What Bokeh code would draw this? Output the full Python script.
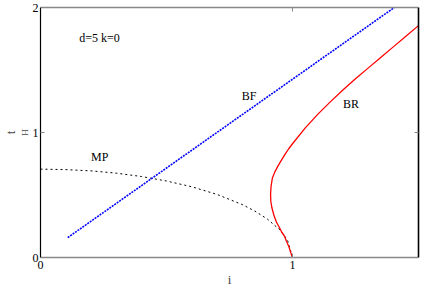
import math
from bokeh.plotting import figure
from bokeh.models import LinearAxis, FixedTicker, Range1d, Title
from bokeh.core.properties import value
from bokeh.embed import file_html
from bokeh.resources import INLINE

# ---- data ----
x_ticks = [0, 1]
y_ticks = [0, 1, 2]

# BF (blue dotted, straight line)
bf_i = [0.108, 1.404]
bf_t = [0.159, 2.0]

# MP (black dotted)
mp_i = [0.0, 0.1, 0.2, 0.3, 0.4, 0.5, 0.6, 0.7, 0.8, 0.85, 0.9, 0.95, 0.98, 1.0]
mp_t = [0.707, 0.703, 0.693, 0.675, 0.648, 0.612, 0.566, 0.505, 0.424, 0.372, 0.308, 0.221, 0.14, 0.0]

# BR (red solid)
br_i = [1.0, 0.993, 0.985, 0.976, 0.968, 0.958, 0.948, 0.936, 0.926, 0.918, 0.914, 0.913,
        0.915, 0.92, 0.93, 0.942, 0.955, 0.97, 0.985, 1.0, 1.05, 1.1, 1.15, 1.2, 1.25,
        1.3, 1.35, 1.4, 1.45, 1.5]
br_t = [0.0, 0.04, 0.09, 0.13, 0.172, 0.2, 0.24, 0.284, 0.34, 0.4, 0.45, 0.507,
        0.57, 0.634, 0.685, 0.731, 0.775, 0.825, 0.87, 0.91, 1.035, 1.145, 1.245, 1.34, 1.43,
        1.515, 1.6, 1.685, 1.77, 1.855]

notes_text = ["d=5 k=0", "BF", "BR", "MP"]
notes_i = [0.154, 0.828, 1.232, 0.235]
notes_t = [1.754, 1.291, 1.231, 0.806]
notes_align = ["left", "center", "center", "center"]

SERIF = "Liberation Serif"

p = figure(width=420, height=289, x_range=Range1d(0, 1.5), y_range=Range1d(0, 2),
           output_backend="svg", toolbar_location=None,
           min_border_left=2, min_border_right=2, min_border_top=7, min_border_bottom=27)
p.outline_line_color = None
p.xgrid.visible = False
p.ygrid.visible = False
p.background_fill_color = "white"
p.border_fill_color = "white"

def style_axis(ax, ticks, line_color, line_width, labels=True):
    ax.ticker = FixedTicker(ticks=ticks)
    ax.axis_line_color = line_color
    ax.axis_line_width = line_width
    ax.major_tick_in = 4
    ax.major_tick_out = 0
    ax.major_tick_line_color = "#888888"
    ax.minor_tick_line_color = None
    if labels:
        ax.major_label_text_font = SERIF
        ax.major_label_text_font_size = "12px"
        ax.major_label_text_color = "black"
        ax.major_label_standoff = 3
    else:
        ax.major_label_overrides = {t: "" for t in ticks}
        ax.major_label_standoff = 0

xa = p.xaxis[0]
ya = p.yaxis[0]
style_axis(xa, x_ticks, "#888888", 1.6)
style_axis(ya, y_ticks, "black", 1.2)
ya.major_label_standoff = 2
xa.axis_label = "i"
xa.axis_label_text_font = SERIF
xa.axis_label_text_font_size = "13px"
xa.axis_label_text_font_style = "normal"
xa.axis_label_standoff = 0

top = LinearAxis()
style_axis(top, x_ticks, "#888888", 1.6, labels=False)
p.add_layout(top, "above")
right = LinearAxis()
style_axis(right, y_ticks, "black", 1.6, labels=False)
p.add_layout(right, "right")

p.line(mp_i, mp_t, line_color="black", line_width=1.0, line_dash="2 3")
p.line(bf_i, bf_t, line_color="#0000ff", line_width=1.6, line_dash="2 1")
p.line(br_i, br_t, line_color="#ff0000", line_width=1.3)

for txt, xi, yt, al in zip(notes_text, notes_i, notes_t, notes_align):
    p.text(x=[xi], y=[yt], text=[txt], text_font=value(SERIF), text_font_size="12px",
           text_align=al, text_baseline="middle", text_color="black")

# y axis label t_H (subscript H sits closer to the axis)
p.add_layout(Title(text="H", text_font=SERIF, text_font_size="9px", text_font_style="normal",
                   align="center", offset=-22, standoff=0), "left")
p.add_layout(Title(text="t", text_font=SERIF, text_font_size="13px", text_font_style="normal",
                   align="center", offset=5, standoff=0), "left")

open("out.html", "w").write(file_html(p, INLINE))
